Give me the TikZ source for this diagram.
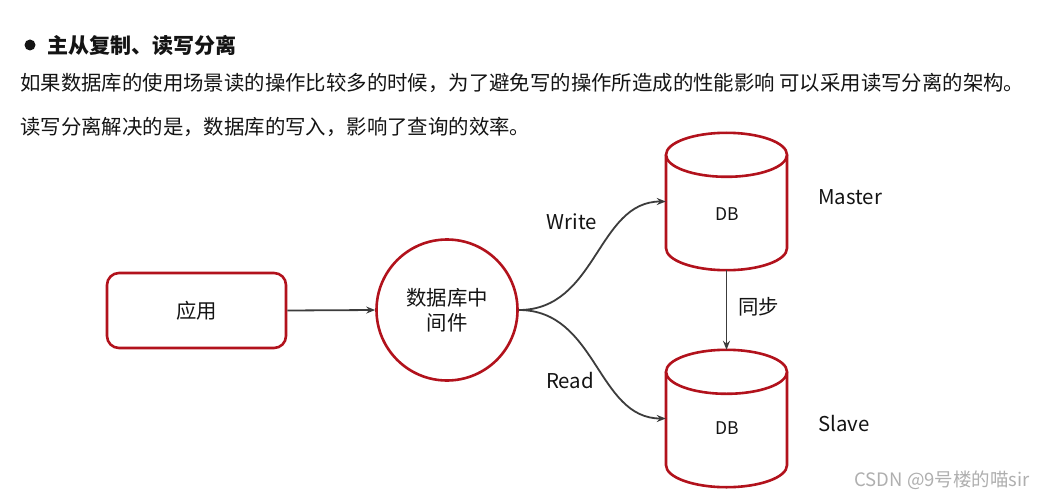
\documentclass[tikz,border=0pt]{standalone}
\usepackage{fontspec}
\setmainfont{Noto Sans CJK SC}
\usetikzlibrary{arrows.meta}
\definecolor{dbred}{RGB}{178,18,28}
\definecolor{linegray}{RGB}{60,60,60}
\definecolor{txt}{RGB}{20,20,20}
\definecolor{wm}{RGB}{175,175,175}
\tikzset{
  redshape/.style={draw=dbred, line width=2.6pt, fill=white},
  conn/.style={draw=linegray, line width=1.8pt, -{Stealth[length=9pt,width=7pt]}},
  big/.style={font=\fontsize{20.4}{25}\selectfont, text=txt, inner sep=0pt},
  small/.style={font=\fontsize{17.5}{20}\selectfont, text=txt, inner sep=0pt},
  cylbox/.style={minimum width=121pt, minimum height=137pt, inner sep=0pt}
}
\newcommand{\drawcyl}[1]{%
  \fill[white] ([xshift=-60.5pt,yshift=-22pt]#1.north) rectangle ([xshift=60.5pt,yshift=22pt]#1.south);
  \draw[dbred, line width=2.6pt]
    ([xshift=-60.5pt,yshift=-22pt]#1.north) -- ([xshift=-60.5pt,yshift=22pt]#1.south)
    arc[start angle=180, end angle=360, x radius=60.5pt, y radius=22pt]
    -- ([xshift=60.5pt,yshift=-22pt]#1.north);
  \draw[dbred, line width=2.6pt, fill=white] ([yshift=-22pt]#1.north) ellipse [x radius=60.5pt, y radius=22pt];
}
\begin{document}
\begin{tikzpicture}[x=1pt,y=1pt]
\useasboundingbox[fill=white] (0,0) rectangle (1043,499);
% header text
\fill[txt] (30,454) circle (5.5);
\node[big, anchor=west, font=\fontsize{21}{25}\selectfont\bfseries] (title) at (47,454) {主从复制、读写分离};
\node[big, anchor=west] (line1) at (20,416) {如果数据库的使用场景读的操作比较多的时候，为了避免写的操作所造成的性能影响 可以采用读写分离的架构。};
\node[big, anchor=west] (line2) at (20,372) {读写分离解决的是，数据库的写入，影响了查询的效率。};
% nodes
\node[redshape, rounded corners=12pt, minimum width=179pt, minimum height=75pt, big] (app) at (196.5,188.5) {应用};
\node[redshape, circle, minimum size=141pt, big, align=center] (mid) at (447,189) {数据库中\\间件};
\node[cylbox] (master) at (726.5,297.5) {};
\node[cylbox] (slave) at (726.5,80.5) {};
\drawcyl{master}
\drawcyl{slave}
\node[small] (mdb) at (727,285) {DB};
\node[small] (sdb) at (727,71) {DB};
\node[big, anchor=west] (mlabel) at (818,302) {Master};
\node[big, anchor=west] (slabel) at (818,75) {Slave};
% connectors
\draw[conn] (app.east) -- (mid.west);
\draw[conn] (mid.east) .. controls (597,189) and (597,297.5) .. (master.west);
\draw[conn] (mid.east) .. controls (597,189) and (597,80.5) .. (slave.west);
\draw[conn] (master.south) -- (slave.north);
\node[big] (wlabel) at (572,277) {Write};
\node[big] (rlabel) at (570,118) {Read};
\node[big, anchor=west] (sync) at (738,192) {同步};
% watermark
\node[font=\fontsize{18.5}{20}\selectfont, text=wm, anchor=east, inner sep=0pt] (wmark) at (1030,19) {CSDN @9号楼的喵sir};
\end{tikzpicture}
\end{document}
